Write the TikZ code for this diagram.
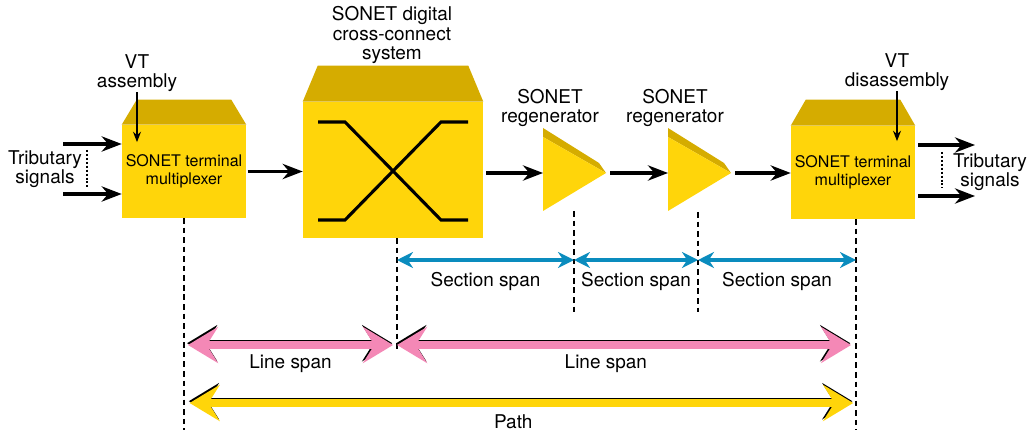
\documentclass[tikz,border=0pt]{standalone}
\usepackage{fontspec}
\setmainfont{TeX Gyre Heros}
\usetikzlibrary{arrows.meta,positioning,calc}
\definecolor{sonetyellow}{RGB}{255,213,10}
\definecolor{sonetdark}{RGB}{213,172,0}
\definecolor{spanblue}{RGB}{10,140,190}
\definecolor{spanpink}{RGB}{244,136,182}

\begin{document}
\begin{tikzpicture}[x=0.025cm, y=-0.025cm,
    lbl/.style={font=\fontsize{13.5}{14}\selectfont, align=center, inner sep=0pt},
    face/.style={fill=sonetyellow, inner sep=0pt, align=center, font=\fontsize{11.4}{12.5}\selectfont},
    arr/.style={-{Stealth[length=5mm, width=3.8mm, inset=1.6mm]}, line width=2.2pt},
    vtarr/.style={-{Stealth[length=2.6mm, width=2mm]}, line width=0.9pt},
    xline/.style={line width=2.2pt},
    cut/.style={dash pattern=on 4pt off 2.8pt, line width=0.9pt},
    dots/.style={dash pattern=on 1.4pt off 1.4pt, line width=0.8pt},
    sec/.style={{Stealth[length=4mm, width=4mm, inset=1.3mm]}-{Stealth[length=4mm, width=4mm, inset=1.3mm]},
                line width=2.8pt, spanblue},
    span/.style={{Stealth[length=7.5mm, width=9mm, inset=2.8mm]}-{Stealth[length=7.5mm, width=9mm, inset=2.8mm]},
                line width=5.2pt},
    shadow/.style={black, transform canvas={shift={(-0.8,-1.8)}}},
]
    \useasboundingbox (0,0) rectangle (1036,432);

    % Boxes (front faces)
    \node[face, minimum width=3.1cm, minimum height=2.325cm] (tm1) at (184,171.5) {SONET terminal\\multiplexer};
    \node[face, minimum width=4.5cm, minimum height=3.4cm] (dcs) at (393,170) {};
    \node[face, minimum width=3.1cm, minimum height=2.325cm] (tm2) at (853,172.5) {SONET terminal\\multiplexer};
    % Bevelled tops
    \foreach \n/\h in {tm1/25, dcs/36, tm2/26}
        \fill[sonetdark] (\n.north west) -- ++(15,-\h) -- ([shift={(-15,-\h)}]\n.north east) -- (\n.north east) -- cycle;

    % Cross-connect symbol
    \draw[xline] ([shift={(-75,-48)}]dcs.center) -- ++(27,0) -- ([shift={(48,50)}]dcs.center) -- ++(27,0);
    \draw[xline] ([shift={(-75,50)}]dcs.center) -- ++(27,0) -- ([shift={(48,-48)}]dcs.center) -- ++(27,0);

    % Regenerators
    \foreach \r/\x in {reg1/543, reg2/668} {
        \fill[sonetdark] (\x,128) -- ({\x+56},163) -- ({\x+63},173) -- (\x,137) -- cycle;
        \fill[sonetyellow] (\x,137) -- (\x,211) -- ({\x+63},173) -- cycle;
        \coordinate (\r-in) at (\x,173);
        \coordinate (\r-out) at ({\x+63},173);
    }

    % Labels
    \node[lbl] (vta) at (137,73) {VT\\assembly};
    \node[lbl] (vtd) at (897,72) {VT\\disassembly};
    \node[lbl] (dcslbl) at (392,35) {SONET digital\\cross-connect\\system};
    \node[lbl] (reg1lbl) at (550,108) {SONET\\regenerator};
    \node[lbl] (reg2lbl) at (675,108) {SONET\\regenerator};
    \node[lbl] (tribl) at (45,169) {Tributary\\signals};
    \node[lbl] (tribr) at (990,172) {Tributary\\signals};

    % VT arrows
    \draw[vtarr] (vta.south) -- ++(0,50);
    \draw[vtarr] (vtd.south) -- ++(0,50);

    % Tributary signals
    \coordinate (in1) at (63,144);
    \coordinate (in2) at (63,194);
    \coordinate (out1) at (975,145);
    \coordinate (out2) at (975,196);
    \draw[arr] (in1) -- (in1 -| tm1.west);
    \draw[arr] (in2) -- (in2 -| tm1.west);
    \draw[arr, shorten <=2pt] (out1 -| tm2.east) -- (out1);
    \draw[arr, shorten <=2pt] (out2 -| tm2.east) -- (out2);
    \draw[dots] (87,150) -- (87,187);
    \draw[dots] (942,152) -- (942,188);

    % Signal chain
    \draw[arr, shorten <=1pt] (tm1.east) -- (tm1.east -| dcs.west);
    \draw[arr, shorten <=2pt] (reg1-in -| dcs.east) -- (reg1-in);
    \draw[arr, shorten <=3pt] (reg1-out) -- (reg2-in);
    \draw[arr, shorten <=3pt] (reg2-out) -- (reg2-out -| tm2.west);

    % Span boundaries
    \foreach \c/\x/\t/\b in {cut1/184/218/430, cut2/397/238/352, cut3/574/211/312, cut4/698/212/312, cut5/856/219/430} {
        \coordinate (\c) at (\x,\t);
        \coordinate (\c-end) at (\x,\b);
        \draw[cut] (\c) -- (\c-end);
    }
    \coordinate (secy) at (0,260);
    \coordinate (liney) at (0,345);
    \coordinate (pathy) at (0,403);

    % Section spans
    \draw[sec] (cut2 |- secy) -- node[lbl, yshift=-15pt, black]{Section span} (cut3 |- secy);
    \draw[sec] (cut3 |- secy) -- node[lbl, yshift=-15pt, black]{Section span} (cut4 |- secy);
    \draw[sec] (cut4 |- secy) -- node[lbl, yshift=-15pt, black]{Section span} (cut5 |- secy);

    % Line spans
    \draw[span, shadow, shorten <=2.8pt, shorten >=2.8pt] (cut1 |- liney) -- (cut2 |- liney);
    \draw[span, spanpink, shorten <=2.8pt, shorten >=2.8pt] (cut1 |- liney) -- node[lbl, yshift=-13.5pt, black]{Line span} (cut2 |- liney);
    \draw[span, shadow, shorten >=3.5pt] (cut2 |- liney) -- (cut5 |- liney);
    \draw[span, spanpink, shorten >=3.5pt] (cut2 |- liney) -- node[lbl, pos=0.455, yshift=-13.5pt, black]{Line span} (cut5 |- liney);

    % Path
    \draw[span, shadow, shorten <=4pt, shorten >=2pt] (cut1 |- pathy) -- (cut5 |- pathy);
    \draw[span, sonetyellow, shorten <=4pt, shorten >=2pt] (cut1 |- pathy) -- node[lbl, pos=0.49, yshift=-13.5pt, black]{Path} (cut5 |- pathy);
\end{tikzpicture}
\end{document}
